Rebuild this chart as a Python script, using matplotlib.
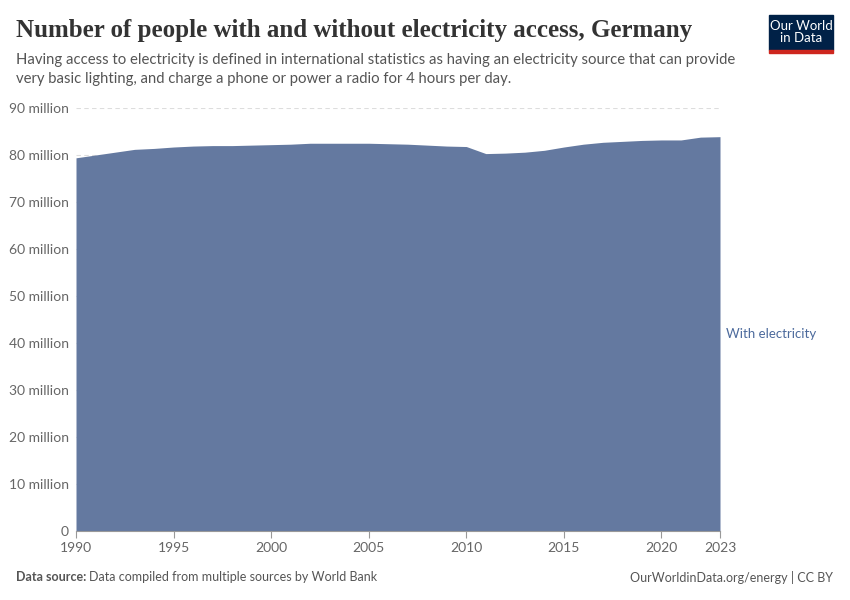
import matplotlib
matplotlib.use("Agg")
import matplotlib.pyplot as plt
from matplotlib.patches import Rectangle

years = list(range(1990, 2024))
with_electricity = [79.4, 80.0, 80.6, 81.2, 81.4, 81.7, 81.9, 82.0, 82.0, 82.1,
                    82.2, 82.3, 82.5, 82.5, 82.5, 82.5, 82.4, 82.3, 82.1, 81.9,
                    81.8, 80.3, 80.4, 80.6, 81.0, 81.7, 82.3, 82.7, 82.9, 83.1,
                    83.2, 83.2, 83.8, 83.9]  # millions
xticks = [1990, 1995, 2000, 2005, 2010, 2015, 2020, 2023]
yticks = [0, 10, 20, 30, 40, 50, 60, 70, 80, 90]
ylabels = ["0"] + [f"{v} million" for v in yticks[1:]]

plt.rcParams['font.family'] = ['Lato', 'DejaVu Sans']

fig = plt.figure(figsize=(8.5, 6), dpi=100)
ax = fig.add_axes([76 / 850, 69 / 600, 644 / 850, 423 / 600])

ax.fill_between(years, with_electricity, 0, color="#6479a0", linewidth=0)
ax.set_xlim(1990, 2023)
ax.set_ylim(0, 90)

ax.set_yticks(yticks)
ax.set_yticklabels(ylabels)
for v in yticks[1:]:
    ax.axhline(v, color="#dddddd", linestyle=(0, (4, 3)), linewidth=0.8, zorder=0)

ax.set_xticks(xticks)
ax.set_xticklabels([str(x) for x in xticks])
ax.tick_params(axis="y", length=0, labelsize=10, labelcolor="#666666", pad=5)
ax.tick_params(axis="x", length=5, color="#999999", labelsize=10, labelcolor="#666666", pad=3)

for s in ["top", "right", "left"]:
    ax.spines[s].set_visible(False)
ax.spines["bottom"].set_color("#999999")

ax.text(2023 + 0.3, 42, "With electricity", fontsize=9.5, color="#4c6a9c", va="center")

fig.text(16 / 850, 1 - 31 / 600, "Number of people with and without electricity access, Germany",
         fontsize=18, fontweight="bold", color="#333333", va="center",
         family=["Liberation Serif", "DejaVu Serif"])
fig.text(16 / 850, 1 - 60 / 600,
         "Having access to electricity is defined in international statistics as having an electricity source that can provide",
         fontsize=10.7, color="#555555", va="center")
fig.text(16 / 850, 1 - 79 / 600,
         "very basic lighting, and charge a phone or power a radio for 4 hours per day.",
         fontsize=10.7, color="#555555", va="center")

# logo
fig.patches.append(Rectangle((769 / 850, 1 - 50 / 600), 64 / 850, 35 / 600,
                             transform=fig.transFigure, color="#002147"))
fig.patches.append(Rectangle((769 / 850, 1 - 52.5 / 600), 64 / 850, 2.5 / 600,
                             transform=fig.transFigure, color="#ce261e"))
fig.text(801 / 850, 1 - 32.5 / 600, "Our World\nin Data", fontsize=9.5, color="white",
         ha="center", va="center", linespacing=1.0)

fig.text(16 / 850, 1 - 577 / 600, "Data source:", fontsize=9, color="#555555",
         fontweight="bold", va="center")
fig.text(89 / 850, 1 - 577 / 600, "Data compiled from multiple sources by World Bank",
         fontsize=9, color="#555555", va="center")
fig.text(833 / 850, 1 - 577 / 600, "OurWorldinData.org/energy | CC BY", fontsize=9,
         color="#555555", va="center", ha="right")

fig.savefig("out.png", dpi=100)
